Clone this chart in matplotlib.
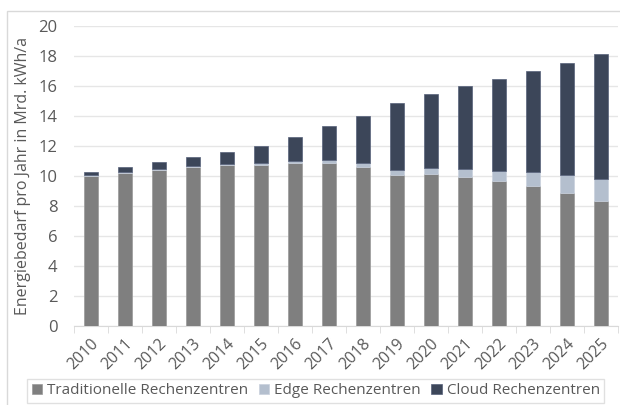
import numpy as np
import matplotlib.pyplot as plt
from matplotlib.patches import Rectangle

years = [str(y) for y in range(2010, 2026)]
traditionell = [9.96, 10.16, 10.36, 10.56, 10.69, 10.69, 10.87, 10.87,
                10.58, 10.07, 10.11, 9.91, 9.65, 9.33, 8.87, 8.29]
edge = [0.09, 0.09, 0.09, 0.09, 0.07, 0.14, 0.13, 0.18,
        0.25, 0.30, 0.40, 0.54, 0.68, 0.90, 1.16, 1.49]
cloud = [0.20, 0.33, 0.46, 0.60, 0.82, 1.13, 1.60, 2.26,
         3.17, 4.46, 4.94, 5.51, 6.10, 6.76, 7.48, 8.33]

plt.rcParams['font.family'] = ['Open Sans', 'DejaVu Sans']
txt = '#595959'

fig = plt.figure(figsize=(6.2, 4.05), dpi=100)
ax = fig.add_axes([74/620, 1 - 325.7/405, 544/620, 300/405])

x = np.arange(len(years))
w = 0.41
b1 = np.array(traditionell)
b2 = b1 + np.array(edge)
ax.bar(x, traditionell, w, color='#7f7f7f', edgecolor='#9a9a9a', linewidth=0.5,
       label='Traditionelle Rechenzentren', zorder=3)
ax.bar(x, edge, w, bottom=b1, color='#b4bfce', edgecolor='#c8d0dc', linewidth=0.5,
       label='Edge Rechenzentren', zorder=3)
ax.bar(x, cloud, w, bottom=b2, color='#3c4659', edgecolor='#56607a', linewidth=0.5,
       label='Cloud Rechenzentren', zorder=3)

ax.set_xlim(-0.5, len(years) - 0.5)
ax.set_ylim(0, 20)
ax.set_yticks(range(0, 21, 2))
ax.yaxis.grid(True, color='#e6e6e6', linewidth=1, zorder=0)
for s in ['top', 'right', 'left']:
    ax.spines[s].set_visible(False)
ax.spines['bottom'].set_color('#d9d9d9')
ax.tick_params(axis='y', length=0, labelsize=12, colors=txt, pad=12)
ax.set_xticks(x)
ax.set_xticklabels(years, rotation=45, ha='right', rotation_mode='anchor')
ax.tick_params(axis='x', length=0, labelsize=11.5, colors=txt, pad=7)
ax.set_xticks(np.arange(-0.5, len(years), 1), minor=True)
ax.tick_params(axis='x', which='minor', length=5, color='#d9d9d9')
ax.set_ylabel('Energiebedarf pro Jahr in Mrd. kWh/a', fontsize=11.5, color=txt, labelpad=5)

fig.patches.append(Rectangle((7/620, -0.1), 1.2, 1 - 11/405 + 0.1, transform=fig.transFigure,
                             fill=False, edgecolor='#d9d9d9', linewidth=1))

leg = fig.legend(loc='lower center', bbox_to_anchor=(0.509, -0.014), ncol=3, frameon=True,
                 fontsize=11, handlelength=0.7, handleheight=0.7, handletextpad=0.3,
                 columnspacing=0.7, borderpad=0.3, fancybox=False, edgecolor='#d9d9d9')
for t in leg.get_texts():
    t.set_color(txt)

fig.savefig('out.png', dpi=100)
